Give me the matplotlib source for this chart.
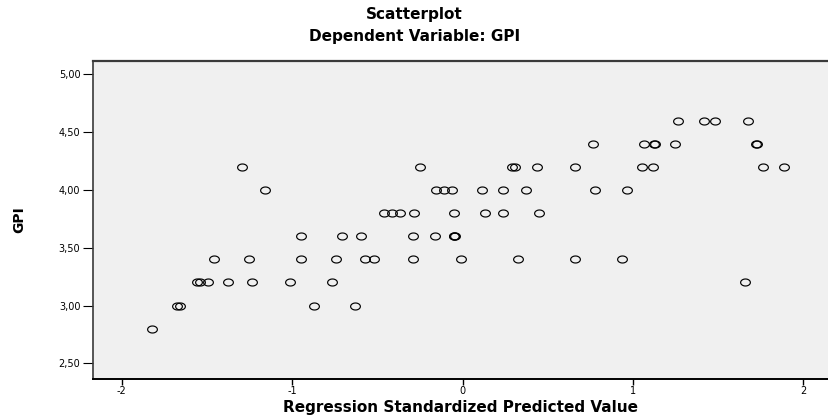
import numpy as np
import matplotlib
matplotlib.use("Agg")
import matplotlib.pyplot as plt
from matplotlib.path import Path

plt.rcParams['font.family'] = ['DejaVu Sans']
plt.rcParams['axes.unicode_minus'] = False

# regression standardized predicted values, grouped by GPI value
pred_460 = [1.266, 1.419, 1.482, 1.674]
pred_440 = [0.764, 1.067, 1.121, 1.127, 1.249, 1.722, 1.728]
pred_420 = [-1.296, -0.249, 0.290, 0.308, 0.435, 0.660, 1.055, 1.118, 1.765, 1.888]
pred_400 = [-1.157, -0.156, -0.110, -0.065, 0.114, 0.236, 0.374, 0.779, 0.964]
pred_380 = [-0.461, -0.414, -0.370, -0.283, -0.052, 0.132, 0.236, 0.447]
pred_360 = [-0.950, -0.707, -0.596, -0.292, -0.160, -0.053, -0.048, -0.044]
pred_340 = [-1.457, -1.251, -0.950, -0.746, -0.572, -0.521, -0.292, -0.009, 0.326, 0.660, 0.936]
pred_320 = [-1.561, -1.540, -1.492, -1.374, -1.234, -1.011, -0.768, 1.658]
pred_300 = [-1.675, -1.661, -0.871, -0.629]
pred_280 = [-1.824]

groups = [(4.6, pred_460), (4.4, pred_440), (4.2, pred_420), (4.0, pred_400),
          (3.8, pred_380), (3.6, pred_360), (3.4, pred_340), (3.2, pred_320),
          (3.0, pred_300), (2.8, pred_280)]

x = []
y = []
for gpi, vals in groups:
    x += vals
    y += [gpi] * len(vals)

ytick_vals = [2.5, 3.0, 3.5, 4.0, 4.5, 5.0]
ytick_labels = ["2,50", "3,00", "3,50", "4,00", "4,50", "5,00"]
xtick_vals = [-2, -1, 0, 1, 2]

# slightly flattened open circle, like the SPSS marker
t = np.linspace(0, 2 * np.pi, 60)
ellipse = Path(np.column_stack([np.cos(t), 0.72 * np.sin(t)]), closed=True)

fig = plt.figure(figsize=(8.29, 4.17), dpi=100)
ax = fig.add_axes([0.112, 0.091, 0.888, 0.763])
ax.set_facecolor("#f0f0f0")

ax.plot(x, y, linestyle="none", marker=ellipse, markersize=7,
        markerfacecolor="none", markeredgecolor="black", markeredgewidth=0.85)

ax.set_xlim(-2.17, 2.15)
ax.set_ylim(2.365, 5.116)
ax.set_yticks(ytick_vals)
ax.set_yticklabels(ytick_labels)
ax.set_xticks(xtick_vals)

ax.tick_params(axis="y", direction="out", length=7, width=0.8, labelsize=7, pad=2)
ax.tick_params(axis="x", direction="out", length=4, width=1.0, labelsize=7, pad=1)

ax.spines["right"].set_visible(False)
ax.spines["top"].set_color("#3a3a3a")
ax.spines["top"].set_linewidth(1.6)
ax.spines["left"].set_color("#3a3a3a")
ax.spines["left"].set_linewidth(1.2)
ax.spines["bottom"].set_color("black")
ax.spines["bottom"].set_linewidth(1.4)

ax.set_xlabel("Regression Standardized Predicted Value", fontsize=11,
              fontweight="bold", labelpad=3)
ax.set_ylabel("GPI", fontsize=10, fontweight="bold", labelpad=23)

fig.text(0.5, 0.966, "Scatterplot", ha="center", va="center",
         fontsize=11, fontweight="bold")
fig.text(0.5, 0.913, "Dependent Variable: GPI", ha="center", va="center",
         fontsize=11, fontweight="bold")

fig.savefig("out.png", dpi=100)
